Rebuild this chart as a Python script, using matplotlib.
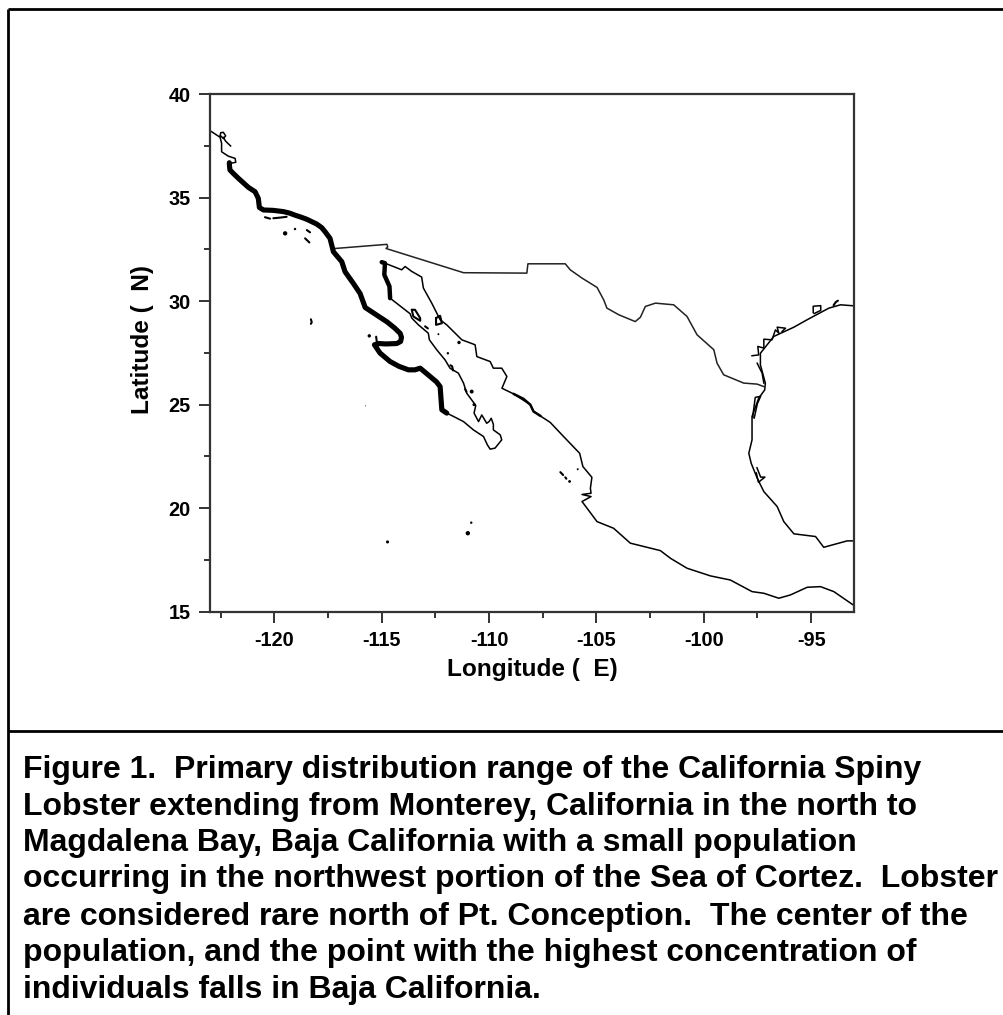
import numpy as np
import matplotlib
matplotlib.use("Agg")
import matplotlib.pyplot as plt
from matplotlib.lines import Line2D
from matplotlib.ticker import MultipleLocator

plt.rcParams['font.family'] = ['Liberation Sans', 'DejaVu Sans']
plt.rcParams['font.weight'] = 'bold'

n = np.nan
# Thin coast north of the main range (with San Francisco Bay)
norcal_lon = [-123.0, -122.53, -122.46, -122.46, -122.15, -121.83, -121.80, -122.07]
norcal_lat = [38.23, 37.91, 37.62, 37.21, 37.0, 36.89, 36.70, 36.65]
bay_lon = [-122.53, -122.50, -122.38, -122.27, -122.38, -122.50, n, -122.38, -122.27, -122.04]
bay_lat = [37.98, 38.13, 38.15, 37.98, 37.85, 37.98, n, 37.90, 37.72, 37.49]

# Primary range, Pacific coast (thick)
range_lon = [-122.10, -122.09, -122.07, -121.90, -121.68, -121.21, -120.90, -120.75, -120.70, -120.51,
             -120.05, -119.58, -119.30, -119.04, -118.75, -118.49, -118.03, -117.80, -117.64, -117.41,
             -117.25, -116.86, -116.71, -116.32, -116.01, -115.77, -115.23, -114.76, -114.40, -114.14,
             -114.08, -114.12, -114.30, -114.80, -115.15, -115.34, -115.08, -114.61, -114.20, -113.76,
             -113.45, -113.21, -112.75, -112.45, -112.28, -112.24, -112.20, -111.97]
range_lat = [36.68, 36.50, 36.33, 36.15, 35.93, 35.49, 35.28, 34.96, 34.52, 34.40,
             34.38, 34.32, 34.25, 34.15, 34.05, 33.95, 33.72, 33.55, 33.35, 33.03,
             32.38, 31.90, 31.42, 30.85, 30.37, 29.69, 29.32, 29.0, 28.70, 28.44,
             28.25, 28.05, 27.95, 27.93, 27.95, 27.89, 27.49, 27.08, 26.85, 26.68,
             26.68, 26.76, 26.36, 26.10, 25.87, 25.30, 24.75, 24.59]

# Baja: Magdalena Bay round the cape and up the Gulf side (thin)
baja_lon = [-111.97, -111.66, -111.19, -110.73, -110.26, -110.08, -109.95, -109.72, -109.41, -109.48,
            -109.80, -109.80, -109.90, -110.00, -110.11, -110.34, -110.49, -110.70, -110.62, -111.04, -111.19, -111.43,
            -111.82, -112.05, -112.44, -112.78, -112.83, -113.29, -113.60, -113.68, -114.61]
baja_lat = [24.59, 24.43, 24.18, 23.78, 23.46, 23.06, 22.85, 22.9, 23.30, 23.54,
            23.78, 24.05, 24.34, 24.18, 24.10, 24.50, 24.18, 24.59, 24.96, 25.55, 26.04, 26.52,
            26.76, 27.16, 27.65, 28.13, 28.45, 28.85, 29.18, 29.39, 30.14]

# Northern Sea of Cortez population (thick)
cortez_lon = [-114.61, -114.64, -114.88, -114.85, -115.0]
cortez_lat = [30.14, 30.71, 31.27, 31.83, 31.88]

# Mainland: head of the Gulf down to the Gulf of Tehuantepec (thin)
mainland_lon = [-114.85, -114.07, -113.91, -113.60, -113.14, -113.06, -112.67, -112.28, -111.97, -111.27,
                -110.65, -110.57, -109.95, -109.80, -109.41, -109.17, -109.40, -108.86, -108.08, -107.93,
                -107.15, -106.53, -105.78, -105.63, -105.21, -105.28, -105.25, -105.67, -105.25, -105.67,
                -104.97, -104.20, -103.42, -102.02, -101.55, -100.78, -99.69, -98.76, -97.75, -97.20,
                -96.50, -95.96, -95.18, -94.56, -93.94, -93.0]
mainland_lat = [31.83, 31.51, 31.67, 31.43, 31.16, 30.63, 29.90, 29.10, 28.85, 28.13,
                27.89, 27.32, 27.08, 26.76, 26.76, 26.36, 25.79, 25.52, 25.0, 24.67,
                24.14, 23.46, 22.65, 22.01, 21.49, 20.96, 20.72, 20.66, 20.56, 20.32,
                19.35, 19.03, 18.31, 17.95, 17.58, 17.10, 16.73, 16.53, 15.97, 15.89,
                15.65, 15.81, 16.18, 16.21, 15.97, 15.3]

# Short thicker stretches on the Sinaloa coast
sinaloa_lon = [-108.86, -108.40, -108.08, -107.93, -107.60]
sinaloa_lat = [25.52, 25.28, 25.0, 24.67, 24.45]

# Northern border (thin)
border_lon = [-117.17, -114.76, -114.72, -114.80, -111.19, -108.24, -108.19, -106.45, -106.22, -105.67,
              -104.97, -104.66, -104.51, -103.96, -103.19, -102.95, -102.72, -102.25, -101.40, -100.78,
              -100.31, -99.53, -99.38, -99.07, -98.14, -97.51, -97.20]
border_lat = [32.54, 32.74, 32.62, 32.54, 31.37, 31.35, 31.80, 31.80, 31.51, 31.11,
              30.66, 30.06, 29.66, 29.34, 29.01, 29.22, 29.74, 29.90, 29.82, 29.26,
              28.37, 27.65, 27.0, 26.44, 26.04, 25.99, 25.87]

# Gulf of Mexico coast (thin)
gulf_lon = [-93.0, -93.32, -94.41, -94.79, -95.80, -96.27, -96.58, -97.20, -97.51, -97.79,
            -97.90, -97.75, -97.75, -97.44, -97.16, -97.13, -97.25, -97.36, -97.36, -96.74,
            -95.80, -95.18, -94.17, -93.63, -93.0]
gulf_lat = [18.42, 18.42, 18.11, 18.63, 18.76, 19.35, 20.08, 20.80, 21.45, 22.17,
            22.65, 23.30, 24.43, 25.31, 25.71, 26.04, 26.5, 26.92, 27.48, 28.29,
            28.74, 29.10, 29.66, 29.82, 29.77]

# Lagoons and bays behind the Gulf coast (thin, jagged)
lagoon_lon = [-97.75, -97.44, -97.48, -97.20, -97.20, -96.82, -96.66, -96.50, -96.58, -96.19, -96.35, n,
              -97.65, -97.50, -97.35, -97.60, -97.72, n,
              -97.52, -97.35, -97.15, -97.45, -97.55, n,
              -94.9, -94.9, -94.55, -94.55, -94.85, n,
              -97.51, -97.28, -97.20]
lagoon_lat = [27.36, 27.40, 27.81, 27.73, 28.16, 28.13, 28.61, 28.45, 28.74, 28.69, 28.53, n,
              24.35, 25.05, 25.40, 25.35, 24.40, n,
              21.95, 21.50, 21.50, 21.25, 21.70, n,
              29.45, 29.75, 29.78, 29.55, 29.40, n,
              27.0, 26.52, 26.04]
galveston_lon = [-93.95, -93.85, -93.75]
galveston_lat = [29.80, 29.95, 30.02]

# Islands drawn as short outlines
island_lon = [-120.44, -120.20, n, -120.05, -119.74, -119.43, n, -118.49, -118.34, n, -118.57, -118.37, n,
              -118.30, -118.26, -118.30, n, -115.26, -115.23, n, -113.60, -113.45, -113.21, -113.21, -113.53, -113.60, n,
              -112.47, -112.28, -112.20, -112.47, -112.47, n, -111.80, -111.72, -111.68, n,
              -106.68, -106.55, n, -106.45, -106.40, n, -112.98, -112.85, n, -111.12, -111.05]
island_lat = [34.05, 33.98, n, 34.00, 34.03, 34.07, n, 33.43, 33.32, n, 33.03, 32.83, n,
              29.12, 28.98, 28.90, n, 28.28, 28.04, n, 29.58, 29.58, 29.18, 29.05, 29.26, 29.58, n,
              29.18, 29.29, 28.93, 28.85, 29.18, n, 26.90, 26.85, 26.65, n,
              21.74, 21.60, n, 21.49, 21.42, n, 28.78, 28.68, n, 25.75, 25.62]

# Very small islands drawn as dots
dot_lon = [-119.50, -119.04, -115.58, -112.36, -111.40, -111.92, -110.81, -110.70, -106.25, -105.87,
           -114.73, -110.99, -110.83, -115.75]
dot_lat = [33.27, 33.48, 28.32, 28.40, 28.0, 27.48, 25.63, 25.0, 21.29, 21.88,
           18.37, 18.79, 19.30, 24.94]
dot_size = [10, 3, 6, 2, 6, 3, 8, 5, 4, 2, 5, 10, 3, 0.5]

x_major = [-120, -115, -110, -105, -100, -95]
y_major = [15, 20, 25, 30, 35, 40]
x_label = "Longitude (  E)"
y_label = "Latitude (  N)"
caption = [
    "Figure 1.  Primary distribution range of the California Spiny",
    "Lobster extending from Monterey, California in the north to",
    "Magdalena Bay, Baja California with a small population",
    "occurring in the northwest portion of the Sea of Cortez.  Lobster",
    "are considered rare north of Pt. Conception.  The center of the",
    "population, and the point with the highest concentration of",
    "individuals falls in Baja California.",
]

W, H = 1004, 1015
fig = plt.figure(figsize=(W / 100, H / 100), dpi=100, facecolor='white')
ax = fig.add_axes([210 / W, 1 - 611.7 / H, 644 / W, 517.7 / H])
ax.set_xlim(-123, -93)
ax.set_ylim(15, 40)

ink = 'black'
for lo, la in [(norcal_lon, norcal_lat), (baja_lon, baja_lat), (mainland_lon, mainland_lat),
               (gulf_lon, gulf_lat), (lagoon_lon, lagoon_lat), (bay_lon, bay_lat)]:
    ax.plot(lo, la, color=ink, lw=1.1, solid_joinstyle='round')
ax.plot(border_lon, border_lat, color='#222222', lw=1.1, solid_joinstyle='round')
ax.plot(range_lon, range_lat, color=ink, lw=3.7, solid_joinstyle='round', solid_capstyle='round')
ax.plot(cortez_lon, cortez_lat, color=ink, lw=3.2, solid_joinstyle='round', solid_capstyle='round')
ax.plot(sinaloa_lon, sinaloa_lat, color=ink, lw=1.8, solid_joinstyle='round', solid_capstyle='round')
ax.plot(island_lon, island_lat, color=ink, lw=1.5, solid_capstyle='round')
ax.plot(galveston_lon, galveston_lat, color=ink, lw=1.5, solid_capstyle='round')
ax.scatter(dot_lon, dot_lat, s=dot_size, color=ink, linewidths=0)

axis_color = '#333333'
for s in ax.spines.values():
    s.set_linewidth(1.6)
    s.set_color(axis_color)
ax.set_xticks(x_major)
ax.set_yticks(y_major)
ax.xaxis.set_minor_locator(MultipleLocator(2.5))
ax.yaxis.set_minor_locator(MultipleLocator(2.5))
ax.tick_params(which='major', length=7.6, width=1.4, color=axis_color, labelsize=14.3, pad=6.3)
ax.tick_params(which='minor', length=4, width=1.4, color=axis_color)
ax.set_xticklabels([str(v) for v in x_major], fontweight='bold')
ax.set_yticklabels([str(v) for v in y_major], fontweight='bold')

ax.set_xlabel(x_label, fontsize=17.6, fontweight='bold', ha='left', va='baseline')
ax.xaxis.set_label_coords((446.7 - 210) / 644, (611.7 - 675.7) / 517.7)
ax.set_ylabel(y_label, fontsize=17.6, fontweight='bold', va='baseline', ha='left', rotation=90, rotation_mode='anchor')
ax.yaxis.set_label_coords((149 - 210) / 644, (611.7 - 414) / 517.7)

# Outer frame of the page box
frame = [((8, 8), (9, H)), ((8, W), (9, 9)), ((8, W), (730.7, 730.7))]
for xs, ys in frame:
    fig.add_artist(Line2D([x / W for x in xs], [1 - y / H for y in ys], color='black', lw=2.0,
                          transform=fig.transFigure, solid_capstyle='butt'))

baselines = [777.7, 814.5, 851, 887.5, 924.5, 961.5, 998]
for line, y in zip(caption, baselines):
    fig.text(23.5 / W, 1 - y / H, line, fontsize=23.0, fontweight='bold', color='black', ha='left', va='baseline')

fig.savefig('out.png', dpi=100, facecolor='white')
